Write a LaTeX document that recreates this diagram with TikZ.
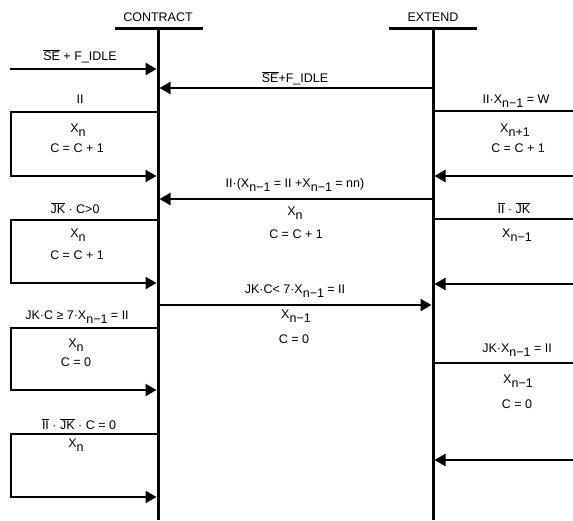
\documentclass[tikz,border=0pt]{standalone}
\usepackage{fontspec}
\setmainfont{Liberation Sans}
\usetikzlibrary{arrows.meta}

\newcommand{\ovl}[1]{$\overline{\mbox{#1}}$}
\newcommand{\sbs}[1]{\raisebox{-4.5pt}{#1}}

\begin{document}
\begin{tikzpicture}[x=1pt, y=-1pt,
  bus/.style={line width=3pt},
  wire/.style={line width=2.4pt, line join=miter},
  flow/.style={wire, -{Triangle[length=11pt,width=12pt]}, shorten >=1.5pt},
  txt/.style={anchor=base, inner sep=0pt, font=\fontsize{12.5}{14}\selectfont}]

  \useasboundingbox (0,0) rectangle (573,520);

  % state columns
  \node[txt] (contract) at (158,21) {CONTRACT};
  \node[txt] (extend) at (433,21) {EXTEND};
  \coordinate (ctop) at (158,28);
  \coordinate (cbot) at (158,520);
  \coordinate (etop) at (433,28);
  \coordinate (ebot) at (433,520);
  \draw[bus] (ctop) -- (cbot);
  \draw[bus] (etop) -- (ebot);
  \draw[bus] ([xshift=-43pt]ctop) -- ([xshift=45pt]ctop);
  \draw[bus] ([xshift=-44pt]etop) -- ([xshift=44pt]etop);

  % loops on CONTRACT
  \foreach \i/\ya/\yb in {1/112/176, 2/220/283, 3/328/390, 4/434/497} {
    \coordinate (cin\i) at (158,\ya);
    \coordinate (lup\i) at (11,\ya);
    \coordinate (llo\i) at (11,\yb);
    \coordinate (cout\i) at (158,\yb);
    \draw[flow] (cin\i) -- (lup\i) -- (llo\i) -- (cout\i);
  }

  % loops on EXTEND
  \foreach \i/\y in {1/111, 2/219, 3/363} {
    \coordinate (eout\i) at (433,\y);
    \coordinate (rout\i) at (573,\y);
    \draw[wire] (eout\i) -- (rout\i);
  }
  \foreach \i/\y in {1/176, 2/284, 3/460} {
    \coordinate (rin\i) at (573,\y);
    \coordinate (ein\i) at (433,\y);
    \draw[flow] (rin\i) -- (ein\i);
  }

  % transitions
  \coordinate (start) at (10,69);
  \coordinate (cstart) at (158,69);
  \coordinate (eidle) at (433,88);
  \coordinate (cidle) at (158,88);
  \coordinate (ejk) at (433,199);
  \coordinate (cjk) at (158,199);
  \coordinate (cx) at (158,305);
  \coordinate (ex) at (433,305);
  \draw[flow] (start) -- (cstart);
  \draw[flow] (eidle) -- (cidle);
  \draw[flow] (ejk) -- (cjk);
  \draw[flow] (cx) -- (ex);

  % left labels
  \node[txt] (l0) at (80,60) {\ovl{SE} + F\_IDLE};
  \node[txt] (l1) at (80,103) {II};
  \node[txt] (l1a) at (78,132) {X\sbs{n}};
  \node[txt] (l1b) at (77,152) {C = C + 1};
  \node[txt] (l2) at (75,213) {\ovl{JK} · C>0};
  \node[txt] (l2a) at (78,237) {X\sbs{n}};
  \node[txt] (l2b) at (77,259) {C = C + 1};
  \node[txt] (l3) at (77,319) {JK·C ≥ 7·X\sbs{n−1} = II};
  \node[txt] (l3a) at (76,347) {X\sbs{n}};
  \node[txt] (l3b) at (76,366) {C = 0};
  \node[txt] (l4) at (79,429) {\ovl{II} · \ovl{JK} · C = 0};
  \node[txt] (l4a) at (76,447) {X\sbs{n}};

  % middle labels
  \node[txt] (m1) at (295,82) {\ovl{SE}+F\_IDLE};
  \node[txt] (m2) at (295,187) {II·(X\sbs{n−1} = II +X\sbs{n−1} = nn)};
  \node[txt] (m2a) at (295,215) {X\sbs{n}};
  \node[txt] (m2b) at (296,238) {C = C + 1};
  \node[txt] (m3) at (295,293) {JK·C< 7·X\sbs{n−1} = II};
  \node[txt] (m3a) at (296,318) {X\sbs{n−1}};
  \node[txt] (m3b) at (294,343) {C = 0};

  % right labels
  \node[txt] (r1) at (516,103) {II·X\sbs{n−1} = W};
  \node[txt] (r1a) at (515,132) {X\sbs{n+1}};
  \node[txt] (r1b) at (518,152) {C = C + 1};
  \node[txt] (r2) at (514,213) {\ovl{II} · \ovl{JK}};
  \node[txt] (r2a) at (517,237) {X\sbs{n−1}};
  \node[txt] (r3) at (517,352) {JK·X\sbs{n−1} = II};
  \node[txt] (r3a) at (518,383) {X\sbs{n−1}};
  \node[txt] (r3b) at (517,408) {C = 0};

\end{tikzpicture}
\end{document}
